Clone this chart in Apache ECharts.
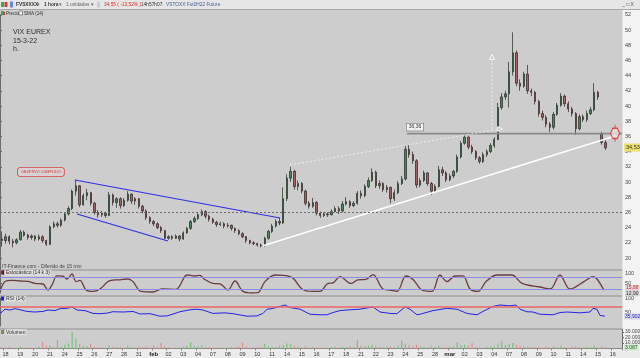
<!DOCTYPE html>
<html><head><meta charset="utf-8">
<script src="https://cdn.jsdelivr.net/npm/echarts/dist/echarts.min.js"></script>
<style>html,body{margin:0;padding:0;background:#cdcdcd}#c{width:640px;height:358px}</style>
</head><body><div id="c"></div>
<script>
// ---- trading days on the x axis (label of each day) ----
const days = ['18','19','20','21','24','25','26','27','28','31','feb','02','03','04','07','08','09','10','11','14','15','16','17','18','21','22','23','24','25','28','mar','02','03','04','07','08','09','10','11','14','15','16'];
const barsPerDay = 4;
// ---- price candles [open, close, low, high] ----
const ohlc = [
[22.5,22.3,21.5,23.5],[22.3,22.8,21.9,23.2],[22.8,22.2,21.8,23.0],[22.2,22.0,21.4,22.5],
[22.0,22.4,21.8,22.6],[22.4,23.4,22.3,23.7],[23.4,23.0,22.8,23.6],[23.0,22.7,22.4,23.2],
[22.7,22.9,22.4,23.1],[22.9,22.5,22.2,23.0],[22.5,22.8,22.3,23.1],[22.8,22.3,22.0,23.0],
[22.3,21.8,21.6,22.4],[21.8,24.1,21.7,24.3],[24.1,24.5,23.9,24.8],[24.5,24.3,24.0,24.8],
[24.3,25.0,24.1,25.2],[25.0,25.8,24.8,26.0],[25.8,26.5,25.6,26.8],[26.5,28.8,26.3,29.0],
[28.8,29.5,28.2,30.3],[29.5,27.0,26.7,29.6],[27.0,28.2,26.9,28.5],[28.2,28.6,27.6,29.1],
[28.6,27.2,26.9,28.7],[27.2,26.0,25.7,27.4],[26.0,25.7,25.3,26.3],[25.7,25.9,25.4,26.2],
[25.9,25.6,25.3,26.1],[25.6,28.3,25.5,28.7],[28.3,27.3,26.9,28.5],[27.3,27.8,26.6,28.0],
[27.8,26.9,26.5,28.0],[26.9,27.6,26.7,27.9],[27.6,28.4,27.4,28.8],[28.4,27.5,27.1,28.5],
[27.5,27.8,27.0,28.0],[27.8,26.8,26.5,27.9],[26.8,26.2,25.9,27.0],[26.2,25.3,25.0,26.4],
[25.3,24.8,24.5,25.5],[24.8,24.5,24.2,25.0],[24.5,24.0,23.8,24.7],[24.0,23.6,23.3,24.2],
[23.6,22.6,22.5,23.7],[22.6,22.8,22.4,23.0],[22.8,22.6,22.4,23.0],[22.6,22.9,22.5,23.1],
[22.9,22.5,22.2,23.0],[22.5,23.3,22.4,23.5],[23.3,23.9,23.2,24.1],[23.9,24.8,23.7,25.0],
[24.8,25.2,24.6,25.5],[25.2,25.7,25.0,25.9],[25.7,26.1,25.5,26.4],[26.1,25.5,25.2,26.3],
[25.5,25.1,24.8,25.7],[25.1,24.7,24.5,25.3],[24.7,24.4,24.1,24.9],[24.4,24.5,24.2,24.8],
[24.5,24.2,23.9,24.7],[24.2,24.3,24.0,24.6],[24.3,23.9,23.6,24.4],[23.9,23.6,23.3,24.0],
[23.6,23.2,23.0,23.8],[23.2,22.8,22.6,23.4],[22.8,22.3,22.0,22.9],[22.3,22.0,21.8,22.4],
[22.0,21.9,21.7,22.2],[21.9,21.7,21.5,22.0],[21.7,21.6,21.4,21.9],[21.6,22.6,21.5,22.8],
[22.6,23.5,22.4,23.7],[23.5,24.2,23.3,24.5],[24.2,24.8,24.0,25.1],[24.8,24.6,24.3,25.3],
[24.6,27.8,24.5,29.3],[27.8,30.5,27.5,31.0],[30.5,31.4,30.0,32.0],[31.4,29.4,29.0,31.6],
[29.4,29.8,28.9,30.2],[29.8,28.8,28.5,30.0],[28.8,27.2,26.9,29.0],[27.2,26.8,26.5,27.5],
[26.8,27.3,26.6,27.9],[27.3,25.9,25.6,27.5],[25.9,25.6,25.3,26.1],[25.6,25.8,25.4,26.0],
[25.8,25.7,25.4,26.0],[25.7,26.1,25.6,26.4],[26.1,26.5,26.0,26.8],[26.5,26.2,25.8,26.8],
[26.2,27.1,26.0,27.5],[27.1,27.4,26.9,28.0],[27.4,26.9,26.6,27.6],[26.9,27.2,26.7,27.5],
[27.2,28.5,27.0,28.8],[28.5,28.2,27.8,28.9],[28.2,29.4,28.0,29.7],[29.4,30.2,29.2,30.6],
[30.2,31.3,30.0,31.8],[31.3,29.5,29.2,31.5],[29.5,29.8,29.1,30.2],[29.8,29.0,28.7,30.0],
[29.0,29.3,28.6,29.6],[29.3,27.8,27.2,29.4],[27.8,28.6,27.5,29.0],[28.6,29.8,28.4,30.1],
[29.8,30.4,29.6,30.8],[30.4,34.3,30.2,34.8],[34.3,33.6,33.2,34.9],[33.6,32.8,32.4,34.0],
[32.8,29.6,29.2,33.0],[29.6,30.2,29.3,30.5],[30.2,31.2,30.0,31.5],[31.2,29.8,29.5,31.3],
[29.8,28.8,28.3,30.0],[28.8,29.4,28.6,29.7],[29.4,31.6,29.3,32.1],[31.6,31.2,30.8,32.0],
[31.2,30.3,30.0,31.4],[30.3,30.8,30.1,31.1],[30.8,31.4,30.5,31.6],[31.4,33.3,31.2,33.6],
[33.3,35.1,33.1,35.4],[35.1,35.9,34.9,36.4],[35.9,34.6,34.3,36.1],[34.6,34.0,33.7,34.9],
[34.0,33.2,32.9,34.2],[33.2,32.7,32.4,33.4],[32.7,33.6,32.5,33.9],[33.6,34.0,33.3,34.3],
[34.0,34.8,33.8,35.1],[34.8,35.6,34.5,35.9],[35.6,39.8,35.5,40.4],[39.8,41.2,39.5,41.7],
[41.2,41.6,40.8,42.0],[41.6,44.5,39.8,45.8],[44.5,47.0,44.0,49.7],[47.0,43.0,42.6,47.3],
[43.0,42.6,42.0,43.5],[42.6,44.2,42.4,44.5],[44.2,42.0,41.6,45.4],[42.0,41.8,41.3,42.3],
[41.8,40.6,40.2,42.0],[40.6,39.0,38.6,40.8],[39.0,38.5,38.1,39.4],[38.5,37.6,37.2,38.8],
[37.6,37.2,36.6,37.9],[37.2,38.9,36.9,39.2],[38.9,40.1,38.7,40.4],[40.1,41.3,39.9,41.7],
[41.3,40.3,39.9,41.5],[40.3,39.6,39.2,40.6],[39.6,39.0,38.6,39.9],[39.0,37.0,36.2,39.2],
[37.0,38.6,36.8,38.9],[38.6,38.2,37.9,38.9],[38.2,39.0,37.9,39.4],[39.0,39.5,38.8,39.9],
[39.5,41.8,39.3,43.0],[41.8,41.2,40.8,42.0],[36.3,35.2,34.9,36.6],[35.2,34.5,34.2,35.5]
];
// ---- volume per bar ----
const volume = [2500,1800,3000,1200,1500,4000,2200,1600,2000,1400,3500,12000,5000,6000,3000,15000,
4000,7000,9000,30000,18000,8000,5000,4000,9000,3000,2500,2000,1800,6000,3500,2500,
3000,2000,5000,3000,2000,4000,2500,3500,2000,6000,3000,10000,4000,2500,1500,2000,
1800,3000,5000,12000,4000,3500,6000,3000,2500,2000,1800,2200,1500,2000,3000,2500,
4000,10000,3500,2000,1600,2500,3000,8000,4000,3000,2500,5000,6000,9000,8000,5000,
3000,2500,4000,2000,3000,2500,1800,2000,1500,2500,3000,2000,3500,2500,4000,3000,
15000,5000,4000,6000,7000,5000,3000,2500,3500,4000,3000,5000,15000,9000,6000,4000,
7000,3500,3000,2500,4000,3000,5000,3000,2500,3000,4000,12000,6000,7000,5000,10000,
3000,2500,2000,3000,3500,4000,9000,13000,6000,8000,10000,7000,5000,4000,3500,3000,
2500,3000,2000,3500,2500,4000,3000,5000,2500,2000,3000,4000,2500,2000,3000,2500,
5000,2000,4000,3087];
// ---- indicators: [position in trading days, value] ----
const stochPts = [[0,7],[0.34,57],[0.81,63],[1.35,60],[1.89,58],[2.36,48],[2.90,45],[3.24,15],[3.51,40],[3.85,86],[4.25,84],[4.52,70],[4.86,95],[5.13,57],[5.40,63],[5.81,15],[6.28,8],[6.75,20],[7.43,62],[8.10,66],[8.64,70],[8.98,57],[9.52,8],[10.33,5],[10.94,20],[11.88,18],[12.63,90],[13.17,85],[13.50,88],[13.77,70],[14.38,48],[14.85,46],[15.39,15],[15.87,60],[16.41,8],[17.02,0],[17.42,2],[17.89,57],[18.57,90],[19.11,88],[19.58,82],[19.85,70],[20.39,20],[21.07,8],[21.61,8],[22.15,48],[22.48,50],[22.96,82],[23.70,48],[24.17,66],[24.71,68],[25.19,92],[25.86,20],[26.33,15],[26.81,8],[27.41,85],[27.89,68],[28.49,15],[29.17,8],[29.71,90],[30.18,57],[30.72,85],[31.26,86],[31.74,20],[32.28,8],[32.82,57],[33.56,90],[34.57,90],[35.25,48],[36.46,30],[37.14,20],[37.81,90],[38.49,20],[39.43,57],[40.04,82],[40.31,70],[40.78,14]];
const rsiPts = [[0,45],[0.34,60],[0.68,57],[1.01,62],[1.35,58],[1.82,52],[2.36,50],[2.90,52],[3.24,57],[3.71,55],[4.05,62],[4.52,63],[4.86,68],[5.20,57],[5.74,55],[6.28,45],[6.75,44],[7.22,46],[7.63,51],[8.31,50],[8.98,52],[9.45,43],[10.13,44],[10.80,35],[11.28,36],[11.82,45],[12.15,51],[12.83,58],[13.30,60],[13.71,57],[14.38,45],[15.19,47],[15.73,44],[16.68,35],[17.35,36],[17.76,45],[18.03,60],[18.37,62],[18.91,70],[19.24,75],[19.58,66],[19.92,63],[20.26,60],[20.93,42],[21.61,40],[22.08,40],[22.48,48],[22.96,55],[23.63,58],[24.31,60],[25.19,68],[25.66,50],[26.33,45],[26.81,44],[27.35,68],[27.68,60],[28.16,40],[28.36,42],[29.24,55],[30.18,63],[30.86,60],[31.53,45],[32.21,40],[32.61,52],[33.29,70],[33.76,75],[34.44,72],[34.57,65],[34.84,75],[35.11,60],[35.58,51],[35.99,50],[36.46,42],[37.34,40],[37.81,48],[38.28,50],[39.16,47],[39.84,50],[40.04,63],[40.31,60],[40.51,38],[40.72,36],[40.85,35]];
// ---- drawn annotations: [position in trading days, price] ----
const channelUpper = [[5.06,30.26],[18.91,25.26]];
const channelLower = [[5.20,25.79],[11.34,22.24]];
const trendSupport = [[17.76,21.6],[41.59,36.1]];
const resistance = [[27.48,36.36],[42,36.36]];
const projection = [[19.58,32.24],[33.76,36.97]];
const measure = [[33.22,36.97],[33.22,46.45]];
const alertMark = [[41.53,36.4]];
const dashedLevel = 26;
const lastPrice = '34,53';

const FONT = 'Liberation Sans, Arial, sans-serif';
const N = days.length * barsPerDay;
const cats = Array.from({length: N}, (_, i) => String(i));
const dayLabel = i => (i % barsPerDay === 1 ? days[(i - 1) / barsPerDay] : '');

const chart = echarts.init(document.getElementById('c'), null, {renderer: 'canvas'});
const gb = {left: 0, right: 18, show: false, containLabel: false, outerBoundsMode: 'none'};
const hiddenCat = gi => ({type: 'category', gridIndex: gi, data: cats, show: false, boundaryGap: true});
const hiddenVal = gi => ({type: 'value', gridIndex: gi, min: 0, max: days.length, show: false});
const yBase = (gi, min, max, interval, fmt, extra) => Object.assign({
  type: 'value', gridIndex: gi, position: 'right', min, max, interval,
  axisLine: {show: true, lineStyle: {color: '#6a6a6a', width: 1}},
  axisTick: {show: true, length: 2, lineStyle: {color: '#6a6a6a'}},
  splitLine: {show: false},
  axisLabel: {fontSize: 5.5, color: '#444', margin: 3, fontFamily: FONT, showMinLabel: false, formatter: fmt}
}, extra || {});

const ov = (data, lineStyle, extra) => Object.assign({
  type: 'line', xAxisIndex: 4, yAxisIndex: 0, data, symbol: 'none', silent: true, z: 4,
  lineStyle, animation: false
}, extra || {});

function txt(x, y, text, o) {
  o = o || {};
  return {type: 'text', x, y, z: 50, silent: true,
    style: Object.assign({text, fill: '#333', fontSize: 6, fontFamily: FONT, verticalAlign: 'middle', align: 'left'}, o)};
}
function rect(x, y, w, h, fill, z, stroke) {
  return {type: 'rect', shape: {x, y, width: w, height: h}, z: z == null ? -5 : z, silent: true,
    style: {fill, stroke: stroke || null, lineWidth: stroke ? 0.8 : 0}};
}
function hline(y, color) {
  return {type: 'line', shape: {x1: 0, y1: y, x2: 622, y2: y}, z: 1, silent: true, style: {stroke: color, lineWidth: 1}};
}

const option = {
  animation: false,
  backgroundColor: '#cdcdcd',
  grid: [
    Object.assign({}, gb, {top: 14.8, height: 258.4}),
    Object.assign({}, gb, {top: 273, height: 20}),
    Object.assign({}, gb, {top: 298, height: 28}),
    Object.assign({}, gb, {top: 329.2, height: 19.3})
  ],
  xAxis: [
    hiddenCat(0), hiddenCat(1), hiddenCat(2),
    {type: 'category', gridIndex: 3, data: cats, boundaryGap: true,
      axisLine: {show: true, lineStyle: {color: '#888'}},
      axisTick: {show: true, length: 2, interval: i => i % barsPerDay === 1, lineStyle: {color: '#888'}},
      axisLabel: {fontSize: 5.5, color: '#333', margin: 3, fontFamily: FONT,
        interval: i => i % barsPerDay === 1,
        formatter: (v, i) => { const l = dayLabel(i); return (l === 'feb' || l === 'mar') ? '{b|' + l + '}' : l; },
        rich: {b: {fontSize: 6, fontWeight: 'bold', color: '#222', fontFamily: FONT}}}},
    hiddenVal(0), hiddenVal(1), hiddenVal(2)
  ],
  yAxis: [
    yBase(0, 18, 52, 2),
    yBase(1, 0, 100, 50),
    yBase(2, 0, 100, 50),
    yBase(3, 0, 35000, 10000, v => (v / 1000) + '.000', {axisLabel: {fontSize: 5, color: '#444', margin: 3, fontFamily: FONT, showMinLabel: false, showMaxLabel: false, formatter: v => (v / 1000) + '.000'}})
  ],
  series: [
    {type: 'candlestick', xAxisIndex: 0, yAxisIndex: 0, data: ohlc, barMaxWidth: 2, z: 3,
      itemStyle: {color: '#4f8459', color0: '#a06262', borderColor: '#1f2a21', borderColor0: '#2e1e1e', borderWidth: 0.7},
      markLine: {silent: true, symbol: 'none', label: {show: false}, animation: false,
        lineStyle: {type: [2, 2], color: '#6e6e6e', width: 1}, data: [{yAxis: dashedLevel}]}},
    ov(channelUpper, {color: '#2f2fe6', width: 1.2}),
    ov(channelLower, {color: '#2f2fe6', width: 1.2}),
    ov(trendSupport, {color: '#ffffff', width: 1.6}),
    ov(resistance.map((p, i) => i === 0 ? {value: p, label: {show: true, formatter: '36,36', position: 'top',
      offset: [8, 2], fontSize: 5, color: '#333', fontFamily: FONT, backgroundColor: '#f2f2f2', borderColor: '#777',
      borderWidth: 0.6, padding: [1, 2]}} : p), {color: '#8a8a8a', width: 1.6},
      {symbol: 'circle', symbolSize: 0.1, showSymbol: true}),
    ov(projection.map((p, i) => i === 1 ? {value: p, symbol: 'triangle', symbolSize: 5, symbolRotate: -90,
      itemStyle: {color: '#cdcdcd', borderColor: '#ffffff', borderWidth: 0.8}} : {value: p, symbol: 'none'}),
      {color: '#f4f4f4', width: 0.8, type: [2, 2]}, {showSymbol: true}),
    ov(measure.map((p, i) => i === 1 ? {value: p, symbol: 'triangle', symbolSize: 5,
      itemStyle: {color: '#cdcdcd', borderColor: '#ffffff', borderWidth: 0.8}} : {value: p, symbol: 'none'}),
      {color: '#f4f4f4', width: 0.8, type: [2, 2]}, {showSymbol: true}),
    {type: 'scatter', xAxisIndex: 4, yAxisIndex: 0, data: alertMark, z: 6, silent: true,
      symbol: 'path://M6,-4L6,0M0,6L3,0L9,0L12,6L9,12L3,12ZM6,12L6,16', symbolSize: [9, 17],
      itemStyle: {color: '#e6e0e0', borderColor: '#e01e1e', borderWidth: 1.2}},
    {type: 'line', xAxisIndex: 5, yAxisIndex: 1, data: stochPts, symbol: 'none', smooth: 0.35, silent: true, z: 4,
      lineStyle: {color: '#6a3e3d', width: 1.3},
      markLine: {silent: true, symbol: 'none', label: {show: false}, animation: false,
        lineStyle: {type: 'solid', color: '#8c8ce8', width: 1.2}, data: [{yAxis: 80}, {yAxis: 20}]}},
    {type: 'line', xAxisIndex: 6, yAxisIndex: 2, data: rsiPts, symbol: 'none', silent: true, z: 4,
      lineStyle: {color: '#2323e6', width: 1},
      markLine: {silent: true, symbol: 'none', label: {show: false}, animation: false,
        lineStyle: {type: 'solid', color: '#ec6464', width: 1.6}, data: [{yAxis: 70}]}},
    {type: 'bar', xAxisIndex: 3, yAxisIndex: 3, barWidth: 1.2, silent: true,
      data: volume.map((v, i) => ({value: v, itemStyle: {color: ohlc[i][1] >= ohlc[i][0] ? '#7cc27c' : '#e38e8e'}}))}
  ],
  graphic: {elements: [
    rect(0, 0, 640, 9, '#e6e6e6', -5, null),
    rect(0, 9, 640, 0.8, '#9a9a9a', -4),
    rect(622.5, 9.8, 17.5, 339, '#f3f3f3', -5),
    rect(0, 348.5, 640, 9.5, '#ececec', -5),
    hline(270, '#8f8f8f'), hline(296, '#8f8f8f'), hline(329, '#8f8f8f'),
    // toolbar
    rect(1, 2, 3, 5, '#3caa3c', 40), rect(4.5, 2, 3, 5, '#d23c3c', 40), rect(10, 1.5, 3, 6, '#6a8ac8', 40),
    txt(16, 5, 'FVSXXXX', {fontWeight: 'bold', fontSize: 4.8}),
    txt(37, 5, '▾', {fontSize: 4.5, fill: '#666'}),
    txt(44, 5, '1 hora', {fontWeight: 'bold', fontSize: 4.8}),
    txt(59, 5, '▾', {fontSize: 4.5, fill: '#666'}),
    txt(66, 5, '1 unidades', {fontSize: 4.8, fill: '#666'}),
    txt(91, 5, '▾', {fontSize: 4.5, fill: '#666'}),
    rect(97, 1.5, 3, 6, '#bfcfe6', 40),
    txt(104, 5, '34,55 ( -13,52% )', {fontSize: 4.8, fill: '#e02424'}),
    txt(141, 5, '14h57h07', {fontSize: 4.8, fill: '#333'}),
    txt(161, 5, '◌', {fontSize: 4.8, fill: '#45609a'}),
    txt(166, 5, 'VSTOXX Fut0H22 Future', {fontSize: 4.8, fill: '#45609a'}),
    txt(622, 4.5, '_ □ X', {fontSize: 5, fill: '#555'}),
    rect(1, 11, 3, 4, '#3caa3c', 40), rect(3, 12, 2, 3, '#d23c3c', 40),
    txt(6, 13.3, 'Precio', {fontSize: 4.6, fill: '#333'}),
    rect(19, 11, 3.5, 4, '#f2f2f2', 40, '#777'),
    txt(24, 13.3, 'SMA (14)', {fontSize: 4.6, fill: '#333'}),
    // price panel notes
    txt(13, 32.5, 'VIX EUREX', {fontSize: 7, fill: '#2e2e2e'}),
    txt(13, 41, '15-3-22', {fontSize: 7, fill: '#2e2e2e'}),
    txt(13, 49, 'h.', {fontSize: 7, fill: '#2e2e2e'}),
    txt(18, 172, 'OBJETIVO CUMPLIDO', {fontSize: 3.8, fill: '#d43030', backgroundColor: '#d9d2d2',
      borderColor: '#d84040', borderWidth: 0.8, borderRadius: 2, padding: [2, 3]}),
    txt(624, 147.5, lastPrice, {fontSize: 5.5, fill: '#333', backgroundColor: '#ecdf6a', padding: [1, 2]}),
    // panel titles
    txt(2, 267, 'IT-Finance.com - Diferido de 15 min', {fontSize: 5, fill: '#444'}),
    rect(1, 270.5, 3, 4, '#c02020', 40), rect(2.5, 270.5, 1.5, 4, '#222', 41),
    txt(5, 272.7, 'Estocástico (14 k 3)', {fontSize: 5, fill: '#333', backgroundColor: '#dedede', padding: [0.5, 1]}),
    rect(1, 296.5, 3, 4, '#2020e0', 40),
    txt(5, 298.7, 'RSI (14)', {fontSize: 5, fill: '#333', backgroundColor: '#dedede', padding: [0.5, 1]}),
    rect(1, 330, 3, 4, '#4caf4c', 40), rect(2.5, 330, 1.5, 4, '#d25a5a', 41),
    txt(5, 332.2, 'Volumen', {fontSize: 5, fill: '#333', backgroundColor: '#dedede', padding: [0.5, 1]}),
    // right-side value tags
    txt(625, 288, '15,88', {fontSize: 5, fill: '#c03030', backgroundColor: '#ead6d6', padding: [0.5, 1]}),
    txt(625, 293.3, '12,90', {fontSize: 5, fill: '#333', backgroundColor: '#d6d6d6', padding: [0.5, 1]}),
    txt(624, 316.5, '35,902', {fontSize: 5, fill: '#2a2ad0', backgroundColor: '#d8d8ee', padding: [0.5, 1]}),
    txt(624, 347.5, '3.087', {fontSize: 5, fill: '#206020', backgroundColor: '#cfe9cf', padding: [0.5, 1]})
  ]}
};
chart.setOption(option);
</script></body></html>
